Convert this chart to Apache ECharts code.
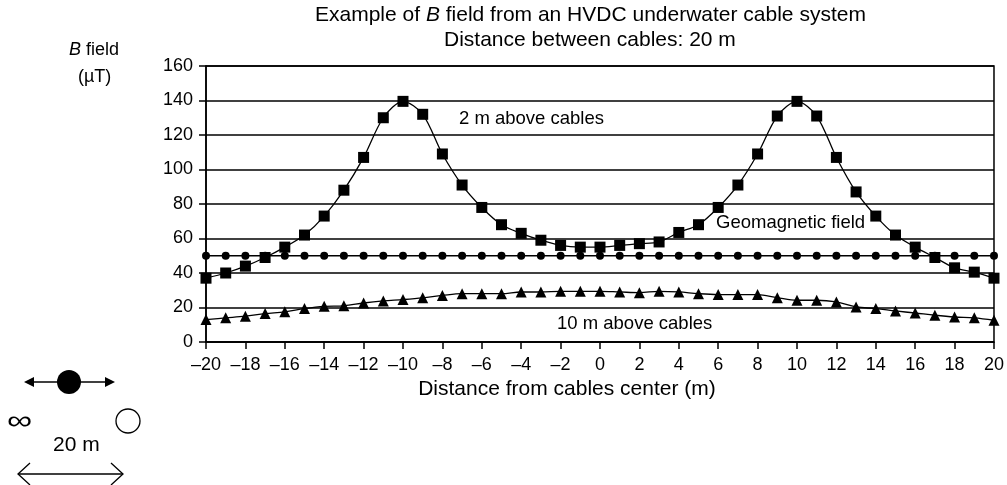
<!DOCTYPE html>
<html>
<head>
<meta charset="utf-8" />
<title>B field HVDC cable</title>
<script src="https://cdn.jsdelivr.net/npm/echarts@6/dist/echarts.min.js"></script>
<style>
  html, body {margin:0;padding:0;background:#fff;}
  #chart {width:1007px;height:485px;}
</style>
</head>
<body>
<div id="chart"></div>
<script>
// distance from cables center (m)
var distance = [-20,-19,-18,-17,-16,-15,-14,-13,-12,-11,-10,-9,-8,-7,-6,-5,-4,-3,-2,-1,0,
                1,2,3,4,5,6,7,8,9,10,11,12,13,14,15,16,17,18,19,20];
// B field 2 m above cables (uT)
var above2m = [37,40,44,49,55,62,73,88,107,130,139.5,132,109,91,78,68,63,59,56,55,55,
               56,57,58,63.5,68,78,91,109,131,139.5,131,107,87,73,62,55,49,43,40.5,37];
// geomagnetic field (uT)
var geomag = [50,50,50,50,50,50,50,50,50,50,50,50,50,50,50,50,50,50,50,50,50,
              50,50,50,50,50,50,50,50,50,50,50,50,50,50,50,50,50,50,50,50];
// B field 10 m above cables (uT)
var above10m = [13,14,15,16.5,17.5,19.4,20.7,21,22.6,23.8,24.6,25.6,27,28,28,28,29,29,29.4,29.4,29.4,
                29,28.6,29.4,29,28,27.5,27.5,27.5,25.7,24.2,24.2,23.2,20.3,19.4,18,16.8,15.5,14.5,14,12.6];

var FONT = '"Liberation Sans", Arial, sans-serif';

function pairs(ys) {
  var out = [];
  for (var i = 0; i < distance.length; i++) out.push([distance[i], ys[i]]);
  return out;
}
function minus(v) { return v < 0 ? '\u2013' + Math.abs(v) : String(v); }

var chart = echarts.init(document.getElementById('chart'));

var option = {
  animation: false,
  backgroundColor: '#fff',
  textStyle: {fontFamily: FONT, color: '#000'},
  grid: {left: 206, right: 12, top: 66, bottom: 143, show: true,
         borderColor: '#000', borderWidth: 1.5, backgroundColor: 'transparent'},
  xAxis: {
    type: 'value', min: -20, max: 20, interval: 2,
    name: 'Distance from cables center (m)',
    nameLocation: 'middle', nameGap: 37,
    nameTextStyle: {fontSize: 21, fontFamily: FONT, color: '#000', padding: [0, 66, 0, 0]},
    axisLine: {lineStyle: {color: '#000', width: 1.5}},
    axisTick: {length: 7, lineStyle: {color: '#000', width: 1.5}},
    axisLabel: {fontSize: 18, fontFamily: FONT, color: '#000', margin: 14, formatter: minus},
    splitLine: {show: false}
  },
  yAxis: {
    type: 'value', min: 0, max: 160, interval: 20,
    axisLine: {show: true, onZero: false, lineStyle: {color: '#000', width: 1.5}},
    axisTick: {show: true, length: 7, lineStyle: {color: '#000', width: 1.5}},
    axisLabel: {fontSize: 18, fontFamily: FONT, color: '#000', margin: 13},
    splitLine: {show: true, lineStyle: {color: '#000', width: 1.5}}
  },
  series: [
    {
      name: '10 m above cables', type: 'line', data: pairs(above10m),
      smooth: 0.35, symbol: 'triangle', symbolSize: 11,
      lineStyle: {color: '#000', width: 1.3}, itemStyle: {color: '#000'}, z: 3
    },
    {
      name: 'Geomagnetic field', type: 'line', data: pairs(geomag),
      symbol: 'circle', symbolSize: 8,
      lineStyle: {color: '#000', width: 1.3}, itemStyle: {color: '#000'}, z: 3
    },
    {
      name: '2 m above cables', type: 'line', data: pairs(above2m),
      smooth: 0.3, symbol: 'rect', symbolSize: 11,
      lineStyle: {color: '#000', width: 1.3}, itemStyle: {color: '#000'}, z: 4
    }
  ],
  graphic: [
    // title
    {type: 'text', left: 315, top: 5, style: {
      text: 'Example of {i|B} field from an HVDC underwater cable system',
      font: '21px ' + FONT, fill: '#000',
      rich: {i: {fontStyle: 'italic', fontSize: 21, fontFamily: FONT}}}},
    {type: 'text', left: 444, top: 30, style: {
      text: 'Distance between cables: 20 m', font: '21px ' + FONT, fill: '#000'}},
    // y axis name
    {type: 'text', left: 69, top: 41, style: {
      text: '{i|B} field', font: '18px ' + FONT, fill: '#000',
      rich: {i: {fontStyle: 'italic', fontSize: 18, fontFamily: FONT}}}},
    {type: 'text', left: 78, top: 68, style: {
      text: '(\u00b5T)', font: '18px ' + FONT, fill: '#000'}},
    // curve labels
    {type: 'text', left: 459, top: 109, style: {text: '2 m above cables', font: '18.5px ' + FONT, fill: '#000'}},
    {type: 'text', left: 716, top: 213, style: {text: 'Geomagnetic field', font: '18.5px ' + FONT, fill: '#000'}},
    {type: 'text', left: 557, top: 314, style: {text: '10 m above cables', font: '18.5px ' + FONT, fill: '#000'}},
    // cable sketch
    {type: 'line', shape: {x1: 30, y1: 382, x2: 109, y2: 382}, style: {stroke: '#000', lineWidth: 1.5}},
    {type: 'polygon', shape: {points: [[24, 382], [34, 377], [34, 387]]}, style: {fill: '#000'}},
    {type: 'polygon', shape: {points: [[115, 382], [105, 377], [105, 387]]}, style: {fill: '#000'}},
    {type: 'circle', shape: {cx: 69, cy: 382, r: 12}, style: {fill: '#000'}},
    {type: 'text', x: 7, y: 409, scaleX: 1.35, style: {text: '\u221e', font: '26px ' + FONT, fill: '#000'}},
    {type: 'circle', shape: {cx: 128, cy: 421, r: 12}, style: {fill: '#fff', stroke: '#000', lineWidth: 1.3}},
    {type: 'text', left: 53, top: 435, style: {text: '20 m', font: '21px ' + FONT, fill: '#000'}},
    {type: 'line', shape: {x1: 18, y1: 474, x2: 123, y2: 474}, style: {stroke: '#000', lineWidth: 1.3}},
    {type: 'polyline', shape: {points: [[30, 463], [18, 474], [30, 485]]}, style: {stroke: '#000', lineWidth: 1.3, fill: null}},
    {type: 'polyline', shape: {points: [[111, 463], [123, 474], [111, 485]]}, style: {stroke: '#000', lineWidth: 1.3, fill: null}}
  ]
};
chart.setOption(option);
</script>
</body>
</html>
